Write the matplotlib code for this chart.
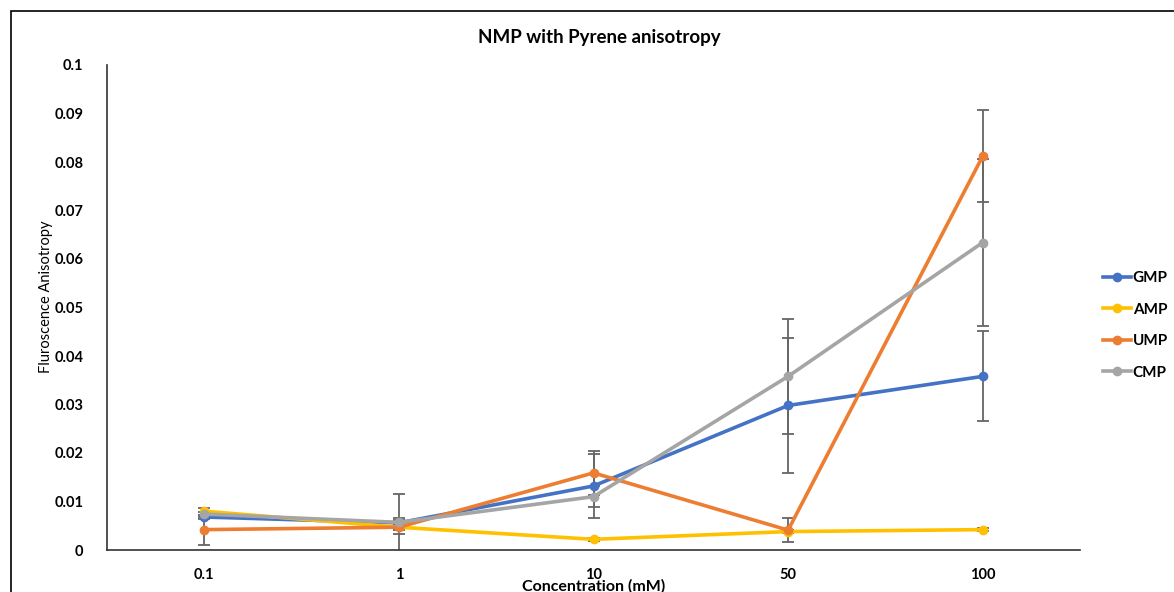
import matplotlib
matplotlib.use("Agg")
import matplotlib.pyplot as plt
from matplotlib.patches import Rectangle

plt.rcParams['font.family'] = ['Lato', 'DejaVu Sans']

categories = ["0.1", "1", "10", "50", "100"]
gmp = [0.0068, 0.0056, 0.0132, 0.0298, 0.0358]
amp = [0.0080, 0.0047, 0.0022, 0.0038, 0.0042]
ump = [0.0042, 0.0047, 0.0159, 0.0041, 0.0812]
cmp_ = [0.0074, 0.0057, 0.0110, 0.0358, 0.0634]
gmp_err = [0.0005, 0.0060, 0.0065, 0.0140, 0.0093]
amp_err = [0.0007, 0.0005, 0.0003, 0.0003, 0.0003]
ump_err = [0.0031, 0.0015, 0.0045, 0.0024, 0.0095]
cmp_err = [0.0005, 0.0008, 0.0021, 0.0118, 0.0173]

series = [("GMP", gmp, gmp_err, "#4472C4"),
          ("AMP", amp, amp_err, "#FFC000"),
          ("UMP", ump, ump_err, "#ED7D31"),
          ("CMP", cmp_, cmp_err, "#A5A5A5")]

fig = plt.figure(figsize=(11.74, 5.92), dpi=100)
fig.patches.append(Rectangle((11/1174, -0.1), 1.2, 1 - 11/592 + 0.1,
                             transform=fig.transFigure, fill=False,
                             edgecolor="black", linewidth=1.2))
ax = fig.add_axes([107/1174, 1 - 550/592, (1080 - 107)/1174, (550 - 65)/592])

x = list(range(len(categories)))
for name, vals, errs, col in series:
    ax.errorbar(x, vals, yerr=errs, fmt='none', ecolor="#666666",
                elinewidth=1.3, capsize=4, capthick=1.3, zorder=2)
for name, vals, errs, col in series:
    ax.plot(x, vals, color=col, linewidth=2.6, marker='o', markersize=6,
            label=name, zorder=3)

ax.set_xlim(-0.5, 4.5)
ax.set_ylim(0, 0.1)
ax.set_yticks([i / 100 for i in range(11)])
ax.set_yticklabels(["0"] + [f"{i/100:g}" for i in range(1, 11)])
ax.set_xticks(x)
ax.set_xticklabels(categories)
for lab in ax.get_xticklabels() + ax.get_yticklabels():
    lab.set_fontweight("bold")
    lab.set_fontsize(10.5)
ax.tick_params(axis='both', length=0)
ax.tick_params(axis='x', pad=13)
ax.tick_params(axis='y', pad=17)
ax.spines['top'].set_visible(False)
ax.spines['right'].set_visible(False)
ax.spines['left'].set_color("#333333")
ax.spines['bottom'].set_color("#333333")
ax.spines['left'].set_linewidth(1.2)
ax.spines['bottom'].set_linewidth(1.2)

fig.text(599/1174, 1 - 37/592, "NMP with Pyrene anisotropy", ha='center',
         va='center', fontsize=13.5, fontweight='bold')
fig.text(594/1174, 1 - 586/592, "Concentration (mM)", ha='center',
         va='center', fontsize=11.5, fontweight='bold')
fig.text(46/1174, 1 - 297/592, "Fluroscence Anisotropy", ha='center',
         va='center', rotation=90, fontsize=10.5)

leg = fig.legend(loc='upper left', bbox_to_anchor=(1103/1174, 1 - 271/592),
                 frameon=False, handlelength=1.8, handletextpad=0.15,
                 labelspacing=1.15, borderpad=0, borderaxespad=0,
                 prop={'weight': 'bold', 'size': 11})

fig.savefig("out.png", dpi=100)
